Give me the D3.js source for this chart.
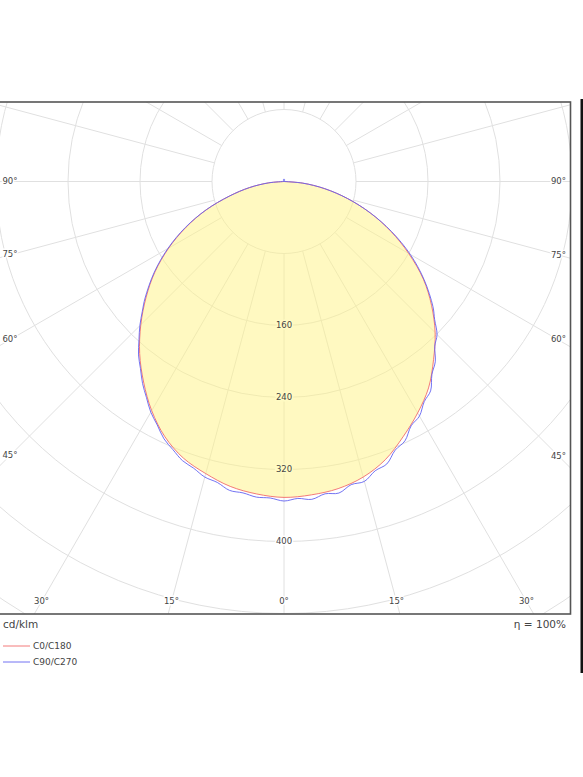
<!DOCTYPE html>
<html>
  <head>
    <meta charset="UTF-8">
    <script src="https://d3js.org/d3.v7.min.js"></script>
    <style>
      body{
        margin: 0;
        background: #fff;
      }
      text{
        font-family: "DejaVu Sans", Verdana, sans-serif;
        fill: #444;
      }
    </style>
    <title>cd/klm</title>
  </head>
  <body>
    <svg id="ldc" width="583" height="777"></svg>

    <script>
      // gamma angles (deg from nadir) and intensities in cd/klm
      const gammaRed = [0, 5, 10, 15, 20, 25, 30, 35, 40, 45, 50, 55, 60, 65, 70, 75, 80, 85, 90];
      const c0   = [351, 349.5, 346.5, 340, 329, 313, 297, 280, 258.5, 237.5, 214, 189, 160, 131, 102, 73, 46, 21, 0];
      const c180 = [351, 348.5, 344, 336, 327, 313, 294, 272, 249.5, 225, 200, 175, 148, 120, 92, 63, 39, 17, 0];

      const gammaBlue = [0, 2.5, 5, 7.5, 10, 12.5, 15, 17.5, 20, 22.5, 25, 27.5, 30, 32.5, 35, 37.5, 40, 42.5, 45, 47.5, 50,
                         55, 60, 65, 70, 75, 80, 85, 90, 100, 120, 140, 150, 160, 170, 180];
      const c90  = [355, 352.5, 354.5, 350, 351.5, 345, 345, 337, 334, 323, 318, 306, 301, 290, 284, 270, 261.5, 248, 240.5, 227, 216,
                    190, 162, 132, 102, 73, 46, 21, 0, 0, 0, 0.5, 1.2, 2, 2.5, 2.7];
      const c270 = [355, 352, 352, 349, 348.5, 342.5, 340, 334, 330, 322.5, 315.5, 305, 296, 284.5, 274, 262, 251.5, 238.5, 226.5, 213.5, 201.5,
                    176, 149, 121, 92, 63, 39, 17, 0, 0, 0, 0.5, 1.2, 2, 2.5, 2.7];

      const ringValues = [80, 160, 240, 320, 400, 480, 560];
      const ringLabels = [160, 240, 320, 400];
      const angleTicks = [-90, -75, -60, -45, -30, -15, 0, 15, 30, 45, 60, 75, 90];
      const seriesNames = ["C0/C180", "C90/C270"];
      const seriesColors = ["#f26b6b", "#6363f0"];

      const svg = d3.select("svg#ldc");
      const frame = {"left": -2, "right": 570.5, "top": 102, "bottom": 614};
      const cx = 284, cy = 181.5;
      const inset = 12;

      const rScale = d3.scaleLinear().domain([0, 480]).range([0, 432]);
      const rad = d => d * Math.PI / 180;

      svg.append("defs").append("clipPath").attr("id", "clip")
         .append("rect")
         .attr("x", frame.left).attr("y", frame.top)
         .attr("width", frame.right - frame.left)
         .attr("height", frame.bottom - frame.top);

      let plot = svg.append("g").attr("clip-path", "url(#clip)");
      let g = plot.append("g").attr("transform", "translate(" + cx + "," + cy + ")");

      // rings
      g.selectAll("circle.ring")
       .data(ringValues)
       .join("circle")
       .attr("class", "ring")
       .attr("r", d => rScale(d))
       .attr("fill", "none")
       .attr("stroke", "#e0e0e0")
       .attr("stroke-width", 1);

      // spokes every 15 deg, starting at the first ring
      g.selectAll("line.spoke")
       .data(d3.range(0, 360, 15))
       .join("line")
       .attr("class", "spoke")
       .attr("x1", d => rScale(80) * Math.sin(rad(d)))
       .attr("y1", d => rScale(80) * Math.cos(rad(d)))
       .attr("x2", d => rScale(700) * Math.sin(rad(d)))
       .attr("y2", d => rScale(700) * Math.cos(rad(d)))
       .attr("stroke", "#e0e0e0")
       .attr("stroke-width", 1);

      // build closed outlines: right half then left half
      function outline(gammas, right, left){
        let pts = [];
        for(let i = gammas.length - 1; i >= 0; i--){
          pts.push({"a": Math.PI - rad(gammas[i]), "v": right[i]});
        }
        for(let i = 1; i < gammas.length; i++){
          pts.push({"a": Math.PI + rad(gammas[i]), "v": left[i]});
        }
        return pts;
      }

      const radial = d3.lineRadial()
                       .angle(d => d.a)
                       .radius(d => rScale(d.v))
                       .curve(d3.curveCatmullRomClosed.alpha(0.5));

      const redPts = outline(gammaRed, c0, c180);
      const bluePts = outline(gammaBlue, c90, c270);

      g.append("path")
       .attr("d", radial(redPts))
       .attr("fill", "rgb(255,243,137)")
       .attr("fill-opacity", 0.52)
       .attr("stroke", "none");

      g.append("path")
       .attr("d", radial(redPts))
       .attr("fill", "none")
       .attr("stroke", seriesColors[0])
       .attr("stroke-width", 0.9);

      g.append("path")
       .attr("d", radial(bluePts))
       .attr("fill", "none")
       .attr("stroke", seriesColors[1])
       .attr("stroke-width", 0.9);

      // ring value labels along nadir
      g.selectAll("text.rlab")
       .data(ringLabels)
       .join("text")
       .attr("class", "rlab")
       .attr("x", 0)
       .attr("y", d => rScale(d))
       .attr("text-anchor", "middle")
       .attr("dominant-baseline", "middle")
       .attr("font-size", "8.5px")
       .attr("stroke", d => d < c0[0] ? "#fffbc4" : "#fff")
       .attr("stroke-width", 3)
       .attr("paint-order", "stroke")
       .text(d => d);

      // angle labels where the spokes meet an inset of the frame
      const inL = frame.left + inset, inR = frame.right - inset, inB = frame.bottom - inset - 0.5;
      svg.selectAll("text.alab")
         .data(angleTicks)
         .join("text")
         .attr("class", "alab")
         .each(function(d){
           const dx = Math.sin(rad(d)), dy = Math.cos(rad(d));
           let t = Infinity;
           if(dx > 0.001) t = Math.min(t, (inR - cx) / dx);
           if(dx < -0.001) t = Math.min(t, (cx - inL) / -dx);
           if(dy > 0.001) t = Math.min(t, (inB - cy) / dy);
           d3.select(this).attr("x", cx + t * dx).attr("y", cy + t * dy);
         })
         .attr("text-anchor", "middle")
         .attr("dominant-baseline", "middle")
         .attr("font-size", "8.5px")
         .attr("stroke", "#fff")
         .attr("stroke-width", 3)
         .attr("paint-order", "stroke")
         .text(d => Math.abs(d) + "°");

      // frame
      svg.append("rect")
         .attr("x", frame.left).attr("y", frame.top)
         .attr("width", frame.right - frame.left)
         .attr("height", frame.bottom - frame.top)
         .attr("fill", "none")
         .attr("stroke", "#555")
         .attr("stroke-width", 1.6);

      svg.append("text")
         .attr("x", 3).attr("y", 625)
         .attr("dominant-baseline", "middle")
         .attr("font-size", "10.5px")
         .text("cd/klm");

      svg.append("text")
         .attr("x", 566).attr("y", 625)
         .attr("text-anchor", "end")
         .attr("dominant-baseline", "middle")
         .attr("font-size", "10.5px")
         .text("η = 100%");

      // legend
      let legend = svg.append("g").attr("transform", "translate(3,646)");
      seriesNames.forEach((name, i) => {
        legend.append("line")
              .attr("x1", 0).attr("x2", 27)
              .attr("y1", i * 16).attr("y2", i * 16)
              .attr("stroke", seriesColors[i])
              .attr("stroke-width", 0.9);
        legend.append("text")
              .attr("x", 30).attr("y", i * 16)
              .attr("dominant-baseline", "middle")
              .attr("font-size", "9px")
              .text(name);
      });

      // dark edge bar at the right
      svg.append("rect")
         .attr("x", 580.5).attr("y", 99)
         .attr("width", 3).attr("height", 574)
         .attr("fill", "#111");
    </script>
  </body>
</html>
